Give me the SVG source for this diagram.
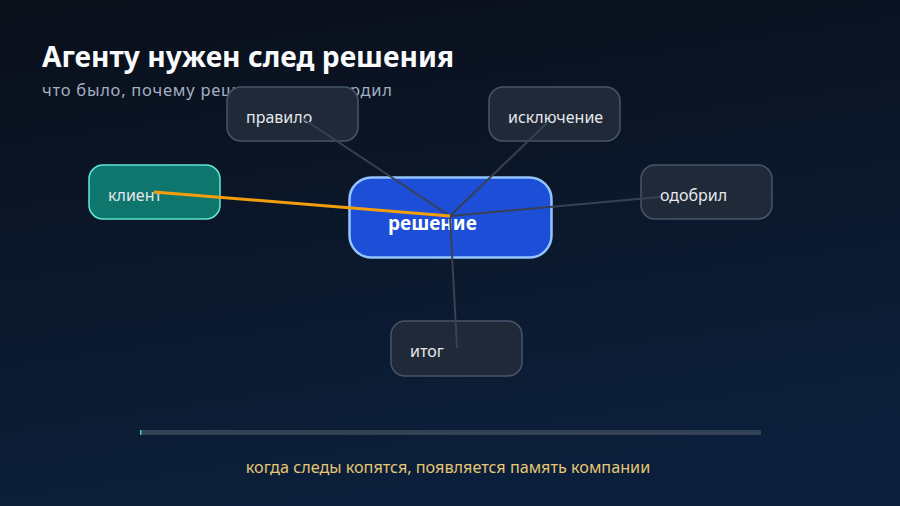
<svg xmlns="http://www.w3.org/2000/svg" width="900" height="506" viewBox="0 0 900 506">
<defs>
<linearGradient id="bg" x1="0" y1="0" x2="0.25" y2="1">
<stop offset="0" stop-color="#0a0f1a"/>
<stop offset="1" stop-color="#0c1f3a"/>
</linearGradient>
<style>
.t{font-family:"Noto Sans","Open Sans","DejaVu Sans",sans-serif}
.node rect{fill:#1f2937;stroke:#475569;stroke-width:1.5}
.node text{fill:#e5e7eb;font-size:16px}
.edge{stroke:#374151;stroke-width:2;fill:none}
</style>
</defs>
<rect width="900" height="506" fill="url(#bg)"/>
<text class="t" x="42" y="67" font-size="28.2" font-weight="700" fill="#f8fafc">Агенту нужен след решения</text>
<text class="t" x="42" y="95.5" font-size="16.5" fill="#a3afc0" textLength="350" lengthAdjust="spacing">что было, почему решили, кто утвердил</text>

<g id="n-client" class="t">
<rect x="89" y="165" width="131" height="54" rx="14" fill="#0f766e" stroke="#5eead4" stroke-width="1.5"/>
<text x="108" y="201" font-size="16" fill="#e5e7eb">клиент</text>
</g>
<g id="n-rule" class="node t">
<rect x="227" y="87" width="131" height="54" rx="14"/>
<text x="246" y="123">правило</text>
</g>
<g id="n-exception" class="node t">
<rect x="489" y="87" width="131" height="54" rx="14"/>
<text x="508" y="123">исключение</text>
</g>
<g id="n-approved" class="node t">
<rect x="641" y="165" width="131" height="54" rx="14"/>
<text x="660" y="201">одобрил</text>
</g>
<g id="n-result" class="node t">
<rect x="391" y="321" width="131" height="55" rx="14"/>
<text x="410" y="357">итог</text>
</g>
<g id="n-decision" class="t">
<rect x="349.5" y="177.5" width="202" height="80" rx="22" fill="#1d4ed8" stroke="#93c5fd" stroke-width="2.5"/>
<text x="388" y="230" font-size="19" font-weight="700" fill="#ffffff">решение</text>
</g>

<g id="connectors">
<line class="edge" x1="450" y1="216" x2="302" y2="118"/>
<line class="edge" x1="450" y1="216" x2="548" y2="122"/>
<line class="edge" x1="450" y1="216" x2="660" y2="197" stroke-width="1.2"/>
<line class="edge" x1="450" y1="216" x2="457" y2="348"/>
<line x1="450" y1="216" x2="154" y2="192" stroke="#f59e0b" stroke-width="3"/>
</g>

<g id="progress">
<rect x="140" y="430" width="621" height="5" fill="#334155"/>
<rect x="140" y="430" width="1.5" height="5" fill="#2dd4bf"/>
</g>
<text class="t" x="448" y="473" font-size="16.2" fill="#e5c674" text-anchor="middle">когда следы копятся, появляется память компании</text>
</svg>
